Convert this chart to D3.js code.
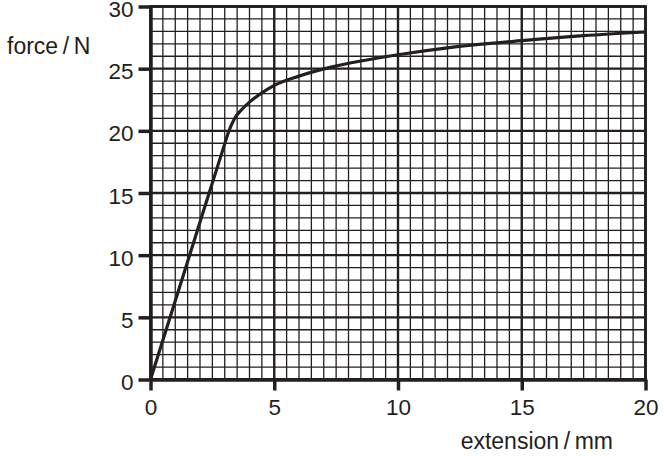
<!DOCTYPE html>
<html>
<head>
<meta charset="utf-8">
<script src="https://cdn.jsdelivr.net/npm/d3@7"></script>
<style>
  body { margin: 0; background: #fff; }
  svg text { font-family: "Liberation Sans", Arial, sans-serif; fill: #231f20; }
</style>
</head>
<body>
<div id="chart"></div>
<script>
"use strict";

// extension (mm) and force (N)
var extension = [0, 1.58, 2.95, 3.18, 3.37, 3.68, 4.02, 4.5, 5, 6, 7.25, 8.5, 10, 12, 15, 17.5, 20];
var force = [0, 10.0, 18.65, 20.05, 20.9, 21.7, 22.35, 23.05, 23.65, 24.4, 25.1, 25.62, 26.12, 26.67, 27.25, 27.65, 27.95];
var xTicks = [0, 5, 10, 15, 20];
var yTicks = [0, 5, 10, 15, 20, 25, 30];

var ink = '#231f20';
var svg = d3.select('#chart').append('svg').attr('width', 664).attr('height', 456);

var x = d3.scaleLinear().domain([0, 20]).range([150.5, 645.5]);
var y = d3.scaleLinear().domain([0, 30]).range([379.5, 6.5]);

var grid = svg.append('g');

// minor grid: 0.5 mm and 1 N
d3.range(0, 20.01, 0.5).forEach(function (v) {
  grid.append('line').attr('x1', x(v)).attr('x2', x(v)).attr('y1', y(0)).attr('y2', y(30))
    .attr('stroke', ink).attr('stroke-width', v % 5 === 0 ? 2.4 : 1.3);
});
d3.range(0, 30.01, 1).forEach(function (v) {
  grid.append('line').attr('x1', x(0)).attr('x2', x(20)).attr('y1', y(v)).attr('y2', y(v))
    .attr('stroke', ink).attr('stroke-width', v % 5 === 0 ? 2.4 : 1.3);
});

// frame
svg.append('rect').attr('x', x(0)).attr('y', y(30)).attr('width', x(20) - x(0)).attr('height', y(0) - y(30))
  .attr('fill', 'none').attr('stroke', ink).attr('stroke-width', 2.8);

// axes
var xAxis = d3.axisBottom(x).tickValues(xTicks).tickSize(11).tickPadding(9).tickSizeOuter(0);
var yAxis = d3.axisLeft(y).tickValues(yTicks).tickSize(12).tickPadding(5).tickSizeOuter(0);

var gx = svg.append('g').attr('transform', 'translate(0,' + y(0) + ')').call(xAxis);
var gy = svg.append('g').attr('transform', 'translate(' + x(0) + ',0)').call(yAxis);

[gx, gy].forEach(function (g) {
  g.attr('font-size', 22.5).attr('font-family', '"Liberation Sans", Arial, sans-serif');
  g.select('.domain').attr('stroke', ink).attr('stroke-width', 3.5);
  g.selectAll('.tick line').attr('stroke', ink).attr('stroke-width', 3.5);
  g.selectAll('.tick text').attr('fill', ink);
});
gy.selectAll('.tick text').attr('y', 2).attr('dy', '0.36em');

// curve
var line = d3.line()
  .x(function (d, i) { return x(extension[i]); })
  .y(function (d) { return y(d); })
  .curve(d3.curveMonotoneX);

svg.append('path').datum(force).attr('d', line)
  .attr('fill', 'none').attr('stroke', ink).attr('stroke-width', 3.2).attr('stroke-linejoin', 'round');

// axis titles
svg.append('text').attr('x', 7).attr('y', 54).attr('font-size', 23).text('force\u2009/\u2009N');
svg.append('text').attr('x', 613).attr('y', 449).attr('text-anchor', 'end').attr('font-size', 23).text('extension\u2009/\u2009mm');
</script>
</body>
</html>
